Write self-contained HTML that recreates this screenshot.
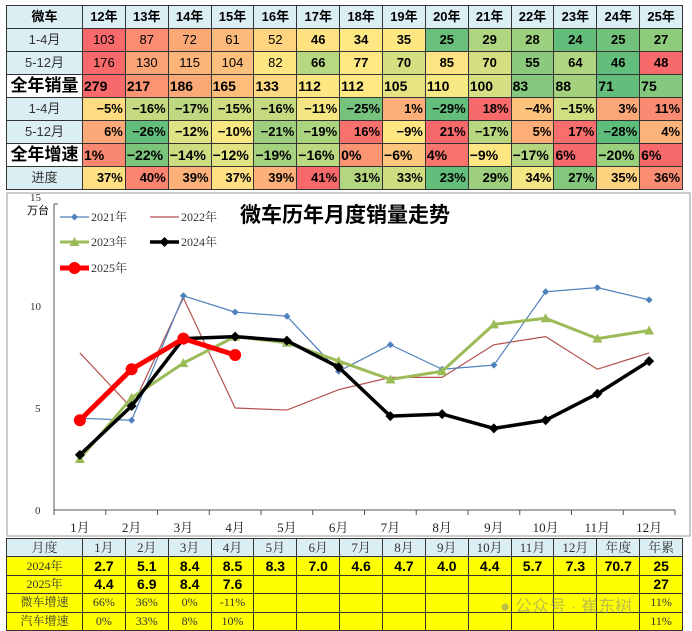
<!DOCTYPE html>
<html><head><meta charset="utf-8">
<style>
body{margin:0;width:692px;height:631px;background:#fff;position:relative;overflow:hidden;font-family:"Liberation Sans","Noto Sans CJK SC",sans-serif;}
table{border-collapse:collapse;position:absolute;table-layout:fixed;}
td{padding:0;border:1px solid #333;overflow:hidden;white-space:nowrap;}
#top{left:6px;top:5px;width:676px;}
#top tr{height:23px;}
#top td{height:22px;line-height:20px;font-size:13px;text-align:center;}
#top tr.h td{background:#daeef3;font-weight:bold;font-size:13px;}
#top td.lab{background:#daeef3;color:#333;font-size:13px;}
#top td.big{background:#fff;font-weight:bold;font-size:17px;color:#000;}
#top td.r{text-align:right;font-weight:bold;padding-right:2px;}
#top td.l{text-align:left;font-weight:bold;font-size:14px;padding-left:1px;}
#bot{left:6px;top:538px;width:676px;}
#bot tr{height:18.4px;}
#bot td{height:17px;line-height:15px;font-size:12px;text-align:center;background:#ffff00;font-family:"Liberation Serif","Noto Serif CJK SC",serif;color:#333;}
#bot tr.h td{background:#daeef3;font-size:13px;}
#bot td.b{font-family:"Liberation Sans",sans-serif;font-weight:bold;font-size:14px;color:#000;}
#chart{position:absolute;left:0;top:190px;}
#wm{position:absolute;left:500px;top:592px;font-size:17px;color:#888;opacity:.55;}
</style></head><body>
<table id="top">
<colgroup><col style="width:76px"><col span="14" style="width:42.86px"></colgroup>
<tbody id="tb"></tbody></table>

<svg id="chart" width="692" height="348">
<rect x="7" y="3" width="683" height="343" fill="#fff" stroke="#999"/>
<g id="axes"></g><g id="series"></g>
<text x="240" y="32" font-size="21" font-weight="bold" font-family="Liberation Sans,Noto Sans CJK SC,sans-serif">微车历年月度销量走势</text>
<text x="27" y="24" font-size="11" font-family="Liberation Serif,serif">万台</text>
<g id="legend" font-size="12" font-family="Liberation Serif,Noto Serif CJK SC,serif" fill="#333"></g>
</svg>

<table id="bot">
<colgroup><col style="width:76px"><col span="14" style="width:42.86px"></colgroup>
<tbody id="bb"></tbody></table>
<div id="wm">● 公众号 · 崔东树</div>

<script>
const months=["1月","2月","3月","4月","5月","6月","7月","8月","9月","10月","11月","12月"];
const yTicks=[0,5,10,15];
const s2021=[4.5,4.4,10.5,9.7,9.5,6.8,8.1,6.9,7.1,10.7,10.9,10.3];
const s2022=[7.7,5.0,10.4,5.0,4.9,5.9,6.5,6.5,8.1,8.5,6.9,7.7];
const s2023=[2.5,5.5,7.2,8.5,8.2,7.3,6.4,6.8,9.1,9.4,8.4,8.8];
const s2024=[2.7,5.1,8.4,8.5,8.3,7.0,4.6,4.7,4.0,4.4,5.7,7.3];
const s2025=[4.4,6.9,8.4,7.6];
const years=["12年","13年","14年","15年","16年","17年","18年","19年","20年","21年","22年","23年","24年","25年"];

const NS="http://www.w3.org/2000/svg";
const X0=54,X1=675,Y0=320,YS=20.4,BW=(X1-X0)/12;
const xs=i=>X0+BW*(i+0.5), ys=v=>Y0-v*YS;
function mk(tag,at,parent){const e=document.createElementNS(NS,tag);for(const k in at)e.setAttribute(k,at[k]);parent.appendChild(e);return e;}
const ax=document.getElementById('axes');
let e=mk('line',{x1:X0,y1:ys(15),x2:X0,y2:Y0,stroke:'#555'},ax);


e=mk('line',{x1:X0,y1:Y0,x2:X1,y2:Y0,stroke:'#555'},ax);


mk('line',{x1:X0,y1:ys(15),x2:X0+4,y2:ys(15),stroke:'#555'},ax);
yTicks.forEach(v=>{const t=mk('text',{x:v==15?30:(v>=10?30:35),y:ys(v)+(v==15?-3:4),'font-size':11,'font-family':'Liberation Serif,serif',fill:'#333'},ax);t.textContent=v;

});
for(let i=0;i<=12;i++)mk('line',{x1:X0+BW*i,y1:Y0,x2:X0+BW*i,y2:Y0+5,stroke:'#555'},ax);
months.forEach((m,i)=>{const t=mk('text',{x:xs(i),y:Y0+22,'text-anchor':'middle','font-size':13,'font-family':'Liberation Serif,Noto Serif CJK SC,serif',fill:'#222'},ax);t.textContent=m;

});
const sg=document.getElementById('series');
function marker(type,x,y,c,r,g){
 if(type=='diamond')return mk('polygon',{points:`${x},${y-r} ${x+r},${y} ${x},${y+r} ${x-r},${y}`,fill:c},g);
 if(type=='tri')return mk('polygon',{points:`${x},${y-r} ${x+r},${y+r*0.8} ${x-r},${y+r*0.8}`,fill:c},g);
 if(type=='circle')return mk('circle',{cx:x,cy:y,r:r,fill:c},g);
}
function series(d,c,w,mtype,r,name){
 const g=mk('g',{},sg);
 
 
 mk('polyline',{points:d.map((v,i)=>xs(i)+','+ys(v)).join(' '),fill:'none',stroke:c,'stroke-width':w,'stroke-linejoin':'round'},g);
 if(mtype)d.forEach((v,i)=>marker(mtype,xs(i),ys(v),c,r,g));
}
series(s2022,'#b5524f',1.2,null,0,'series-2022');
series(s2021,'#4f81bd',1.2,'diamond',3.5,'series-2021');
series(s2023,'#9bbb59',3,'tri',5,'series-2023');
series(s2024,'#000',3.5,'diamond',5,'series-2024');
series(s2025,'#ff0000',5,'circle',6,'series-2025');
const lg=document.getElementById('legend');
const L=[["2021年",60,27,'#4f81bd',1.2,'diamond',3.5],["2022年",150,27,'#b5524f',1.2,null,0],["2023年",60,52,'#9bbb59',3,'tri',5],["2024年",150,52,'#000',3.5,'diamond',5],["2025年",60,78,'#ff0000',5,'circle',6]];
L.forEach(l=>{const g=mk('g',{},lg);


mk('line',{x1:l[1],y1:l[2],x2:l[1]+29,y2:l[2],stroke:l[3],'stroke-width':l[4]},g);
if(l[5])marker(l[5],l[1]+14.5,l[2],l[3],l[6],g);
const t=mk('text',{x:l[1]+31,y:l[2]+4},g);t.textContent=l[0];});

const topRows=[
 ["1-4月","lab","c",["103","87","72","61","52","46","34","35","25","29","28","24","25","27"],["#f8696b","#fa8c72","#fba877","#fdbb7b","#fed480","#ffe383","#fee883","#fee783","#6abf7c","#b0d580","#9ccf7e","#63be7b","#72c27c","#8fcb7d"]],
 ["5-12月","lab","c",["176","130","115","104","82","66","77","70","85","70","55","64","46","48"],["#f8696b","#fba577","#fcb479","#fcc07c","#fee683","#b7d780","#fee883","#d4df81","#fee482","#d4df81","#8bca7d","#b0d580","#63be7b","#f8696b"]],
 ["全年销量","big","l",["279","217","186","165","133","112","112","105","110","100","83","88","71","75"],["#f8696b","#fa9473","#fbaa77","#fdbd7b","#fed981","#fee683","#fee983","#e6e482","#f6e883","#d3df82","#84c77d","#a3d17e","#63be7b","#84c77d"]],
 ["1-4月","lab","r",["-5%","-16%","-17%","-15%","-16%","-11%","-25%","1%","-29%","18%","-4%","-15%","3%","11%"],["#ffdc81","#c5da80","#bdd880","#cfdd81","#c5da80","#f4e783","#75c37c","#fbaf78","#63be7b","#f8696b","#fdc37c","#d1de81","#fba777","#f98b72"]],
 ["5-12月","lab","r",["6%","-26%","-12%","-10%","-21%","-19%","16%","-9%","21%","-17%","5%","17%","-28%","4%"],["#fba978","#63be7b","#e0e283","#f7e883","#9dcf7f","#acd47f","#f8716c","#fee683","#f8696b","#b9d780","#fcad78","#f86e6c","#5fbd7b","#fcb379"]],
 ["全年增速","big","l",["1%","-22%","-14%","-12%","-19%","-16%","0%","-6%","4%","-9%","-17%","6%","-20%","6%"],["#f98871","#7cc57d","#cbdc81","#e2e383","#a5d27f","#bcd880","#fa9473","#fdc77d","#f8746d","#fee683","#b5d680","#f8696b","#9acf7e","#f8696b"]],
 ["进度","lab","r",["37%","40%","39%","37%","39%","41%","31%","33%","23%","29%","34%","27%","35%","36%"],["#ffe082","#f98570","#fcb07a","#ffe082","#fcb07a","#f8696b","#b5d680","#cfdd81","#63be7b","#9dcf7f","#f3e783","#83c77d","#fed380","#fa8c72"]]
];
const tb=document.getElementById('tb');
let tr=document.createElement('tr');tr.className='h';
tr.innerHTML='<td>微车</td>'+years.map(y=>`<td>${y}</td>`).join('');
tb.appendChild(tr);
topRows.forEach((r,ri)=>{const tr=document.createElement('tr');
 let h=`<td class="${r[1]}">${r[0]}</td>`;
 r[3].forEach((v,i)=>{const bold=(ri<2&&i>=5)?'font-weight:bold;':'';h+=`<td class="${r[2]}" style="background:${r[4][i]};${bold}">${v.replace('-','−')}</td>`;});
 tr.innerHTML=h;tb.appendChild(tr);});
const bb=document.getElementById('bb');
const m24=["2.7","5.1","8.4","8.5","8.3","7.0","4.6","4.7","4.0","4.4","5.7","7.3"];
const m25=["4.4","6.9","8.4","7.6"];
const gMicro=["66%","36%","0%","-11%"], gAuto=["0%","33%","8%","10%"];
function row(label,vals,extra,cls,extraCls,h){const tr=document.createElement('tr');if(h)tr.className='h';
 let s=`<td>${label}</td>`;for(let i=0;i<12;i++)s+=`<td class="${cls}">${vals[i]||''}</td>`;
 s+=`<td class="${extraCls}">${extra[0]}</td><td class="${extraCls}">${extra[1]}</td>`;tr.innerHTML=s;bb.appendChild(tr);}
row("月度",months,["年度","年累"],"","",true);
row("2024年",m24,["70.7","25"],"b","b");
row("2025年",m25,["","27"],"b","b");
row("微车增速",gMicro,["","11%"],"","");
row("汽车增速",gAuto,["","11%"],"","");
</script>
</body></html>
